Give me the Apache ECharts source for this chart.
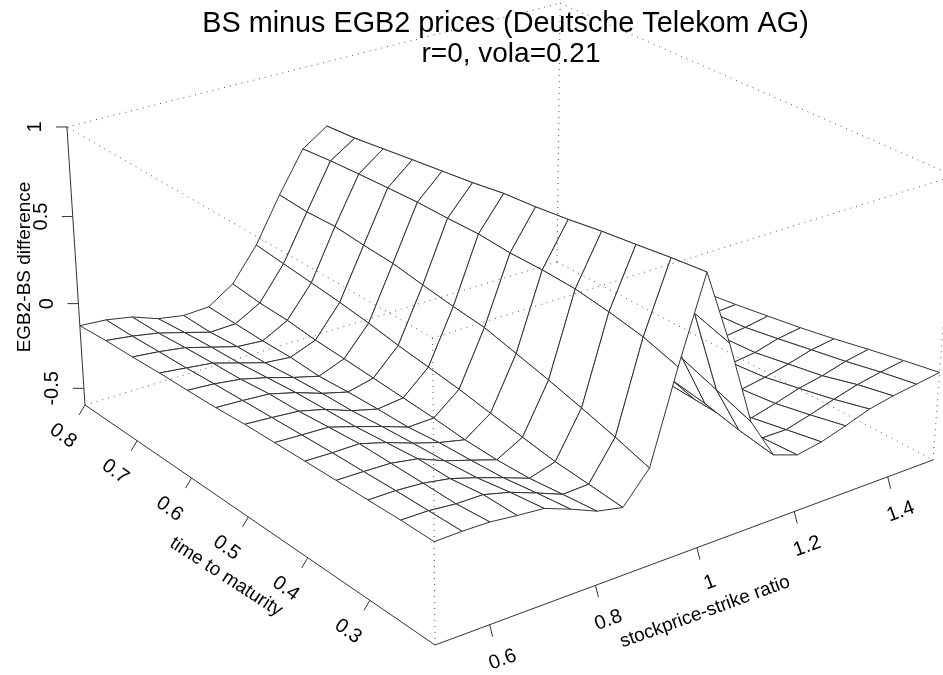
<!DOCTYPE html>
<html><head><meta charset="utf-8">
<style>html,body{margin:0;padding:0;background:#fff}#c{width:943px;height:675px}</style>
<script src="https://cdn.jsdelivr.net/npm/echarts@6/dist/echarts.min.js"></script>
</head><body><div id="c"></div>
<script>
const titleLines = ['BS minus EGB2 prices (Deutsche Telekom AG)', 'r=0, vola=0.21'];
const strikeRatios = [0.5,0.55,0.6,0.65,0.7,0.75,0.8,0.85,0.9,0.95,1,1.05,1.1,1.15,1.2,1.25,1.3,1.35,1.4,1.45,1.5];
const maturities = [0.2,0.25,0.3,0.35,0.4,0.45,0.5,0.55,0.6,0.65,0.7,0.75,0.8];
// one list per strike ratio, each running from maturity 0.2 to 0.8
const differences = [
[-.043,-.044,-.05,-.056,-.062,-.069,-.075,-.088,-.095,-.10,-.11,-.116,-.129],
[-.04,-.045,-.05,-.058,-.065,-.075,-.085,-.095,-.105,-.117,-.125,-.135,-.139],
[-.042,-.059,-.06,-.062,-.064,-.08,-.097,-.105,-.125,-.135,-.147,-.162,-.166],
[-.059,-.06,-.085,-.087,-.106,-.125,-.134,-.144,-.162,-.18,-.189,-.203,-.22],
[-.072,-.098,-.13,-.147,-.158,-.172,-.189,-.195,-.207,-.224,-.231,-.246,-.245],
[-.127,-.152,-.18,-.193,-.203,-.224,-.227,-.234,-.246,-.238,-.242,-.24,-.237],
[-.189,-.21,-.233,-.24,-.236,-.22,-.21,-.20,-.19,-.182,-.165,-.16,-.142],
[-.22,-.204,-.19,-.162,-.134,-.103,-.08,-.057,-.028,-.005,.013,.03,.048],
[-.054,.006,.06,.11,.155,.20,.22,.245,.273,.284,.30,.294,.304],
[.444,.503,.538,.565,.573,.572,.584,.58,.58,.572,.563,.552,.535],
[.899,.88,.856,.834,.806,.784,.768,.739,.716,.693,.669,.645,.631],
[.481,.542,.575,.595,.61,.61,.61,.60,.59,.575,.56,.545,.53],
[.007,.078,.148,.19,.23,.26,.28,.29,.30,.30,.30,.30,.30],
[-.227,-.195,-.151,-.12,-.09,-.06,-.04,-.02,0,.01,.02,.03,.03],
[-.276,-.288,-.29,-.28,-.27,-.26,-.25,-.24,-.22,-.21,-.20,-.19,-.18],
[-.251,-.289,-.328,-.34,-.345,-.345,-.34,-.335,-.33,-.325,-.32,-.315,-.31],
[-.208,-.252,-.292,-.314,-.33,-.345,-.35,-.355,-.36,-.365,-.365,-.365,-.365],
[-.16,-.21,-.251,-.29,-.309,-.325,-.34,-.35,-.36,-.37,-.375,-.38,-.385],
[-.132,-.172,-.224,-.258,-.292,-.303,-.32,-.34,-.355,-.365,-.375,-.385,-.39],
[-.112,-.146,-.186,-.22,-.255,-.287,-.30,-.325,-.345,-.36,-.37,-.38,-.39],
[-.091,-.125,-.161,-.20,-.234,-.263,-.291,-.315,-.335,-.35,-.365,-.375,-.385]
];
const strikeTicks = [0.6,0.8,1,1.2,1.4];
const strikeTickLabels = ['0.6','0.8','1','1.2','1.4'];
const maturityTicks = [0.3,0.4,0.5,0.6,0.7,0.8];
const maturityTickLabels = ['0.3','0.4','0.5','0.6','0.7','0.8'];
const differenceTicks = [-0.5,0,0.5,1];
const differenceTickLabels = ['-0.5','0','0.5','1'];
const boxMin = [0.5,0.2,-0.6], boxMax = [1.5,0.8,1];

// perspective camera: homogeneous image of the unit box directions
const CAM_U = [600.1,-134.7,0.1094], CAM_V = [-337.9,-182.4,0.1423], CAM_W = [-24,-323.9,-0.05], CAM_O = [435,645,1];
function project(x,y,z){
  const u=(x-boxMin[0])/(boxMax[0]-boxMin[0]), v=(y-boxMin[1])/(boxMax[1]-boxMin[1]), w=(z-boxMin[2])/(boxMax[2]-boxMin[2]);
  const h=[0,1,2].map(k=>CAM_U[k]*u+CAM_V[k]*v+CAM_W[k]*w+CAM_O[k]);
  return [h[0]/h[2],h[1]/h[2]];
}
const FONT='"Liberation Sans", Arial, sans-serif';
const LINE='#333', DOT='#555';
const chart=echarts.init(document.getElementById('c'),null,{renderer:'canvas'});

// surface cells, farthest first so nearer ones cover them
const cells=[];
for(let i=strikeRatios.length-2;i>=0;i--) for(let j=maturities.length-2;j>=0;j--) cells.push([i,j]);
function renderCell(params,api){
  const i=api.value(0), j=api.value(1);
  const pts=[[i,j],[i+1,j],[i+1,j+1],[i,j+1]].map(([a,b])=>api.coord(project(strikeRatios[a],maturities[b],differences[a][b])));
  return {type:'polygon',shape:{points:pts},style:{fill:'#fff',stroke:LINE,lineWidth:1,lineJoin:'round'}};
}
// box edges drawn dotted
const c=(a,b,d)=>[a?boxMax[0]:boxMin[0],b?boxMax[1]:boxMin[1],d?boxMax[2]:boxMin[2]];
const dottedEdges=[
 [c(0,0,0),c(0,0,1)],[c(1,0,0),c(1,0,1)],[c(1,1,0),c(1,1,1)],
 [c(0,1,1),c(1,1,1)],[c(1,1,1),c(1,0,1)],[c(1,0,1),c(0,0,1)],[c(0,0,1),c(0,1,1)],
 [c(0,1,0),c(1,1,0)],[c(1,1,0),c(1,0,0)]
];
const solidEdges=[[c(0,0,0),c(1,0,0)],[c(0,0,0),c(0,1,0)],[c(0,1,0),c(0,1,1)]];
function edgeRenderer(list,dotted){
  return (params,api)=>{
    const e=list[api.value(0)];
    const a=api.coord(project(...e[0])), b=api.coord(project(...e[1]));
    return {type:'line',shape:{x1:a[0],y1:a[1],x2:b[0],y2:b[1]},
      style:dotted?{stroke:DOT,lineWidth:1,lineDash:[1,5]}:{stroke:LINE,lineWidth:1}};
  };
}
const TICK_STYLE={
 x:{tick:[3,12],label:[13,35],rot:20},
 y:{tick:[-6,10],label:[-22,31],rot:-36},
 z:{tick:[-11,0],label:[-31,0],rot:90}
};
const tickItems=[
 ...strikeTicks.map((t,k)=>({p:[t,boxMin[1],boxMin[2]],s:TICK_STYLE.x,text:strikeTickLabels[k]})),
 ...maturityTicks.map((t,k)=>({p:[boxMin[0],t,boxMin[2]],s:TICK_STYLE.y,text:maturityTickLabels[k]})),
 ...differenceTicks.map((t,k)=>({p:[boxMin[0],boxMax[1],t],s:TICK_STYLE.z,text:differenceTickLabels[k]}))
];
function renderTick(params,api){
  const it=tickItems[api.value(0)];
  const a=api.coord(project(...it.p));
  return {type:'group',children:[
    {type:'line',shape:{x1:a[0],y1:a[1],x2:a[0]+it.s.tick[0],y2:a[1]+it.s.tick[1]},style:{stroke:LINE,lineWidth:1}},
    {type:'text',x:a[0]+it.s.label[0],y:a[1]+it.s.label[1],rotation:it.s.rot*Math.PI/180,
     style:{text:it.text,fill:'#000',font:'20px '+FONT,textAlign:'center',textVerticalAlign:'middle'}}
  ]};
}
const axisTitles=[
 {text:'stockprice-strike ratio',at:[705,612],rot:20},
 {text:'time to maturity',at:[226,577],rot:-33},
 {text:'EGB2-BS difference',at:[25,267],rot:90}
];
function renderAxisTitle(params,api){
  const t=axisTitles[api.value(0)], a=api.coord(t.at);
  return {type:'text',x:a[0],y:a[1],rotation:t.rot*Math.PI/180,
    style:{text:t.text,fill:'#000',font:'19px '+FONT,textAlign:'center',textVerticalAlign:'middle'}};
}
const idx=l=>l.map((_,k)=>[k]);
chart.setOption({
  animation:false,
  backgroundColor:'#fff',
  title:[
    {text:titleLines[0],left:500.5,top:5,textAlign:'center',textStyle:{fontFamily:FONT,fontSize:28.8,fontWeight:'normal',color:'#000'}},
    {text:titleLines[1],left:506,top:35,textAlign:'center',textStyle:{fontFamily:FONT,fontSize:28,fontWeight:'normal',color:'#000'}}
  ],
  grid:{left:0,right:0,top:0,bottom:0},
  xAxis:{type:'value',min:0,max:943,show:false},
  yAxis:{type:'value',min:0,max:675,inverse:true,show:false},
  series:[
    {type:'custom',name:'surface',coordinateSystem:'cartesian2d',clip:false,silent:true,data:cells,renderItem:renderCell},
    {type:'custom',name:'box',coordinateSystem:'cartesian2d',clip:false,silent:true,data:idx(dottedEdges),renderItem:edgeRenderer(dottedEdges,true)},
    {type:'custom',name:'axes',coordinateSystem:'cartesian2d',clip:false,silent:true,data:idx(solidEdges),renderItem:edgeRenderer(solidEdges,false)},
    {type:'custom',name:'ticks',coordinateSystem:'cartesian2d',clip:false,silent:true,data:idx(tickItems),renderItem:renderTick},
    {type:'custom',name:'axisTitles',coordinateSystem:'cartesian2d',clip:false,silent:true,data:idx(axisTitles),renderItem:renderAxisTitle}
  ]
});
</script></body></html>
